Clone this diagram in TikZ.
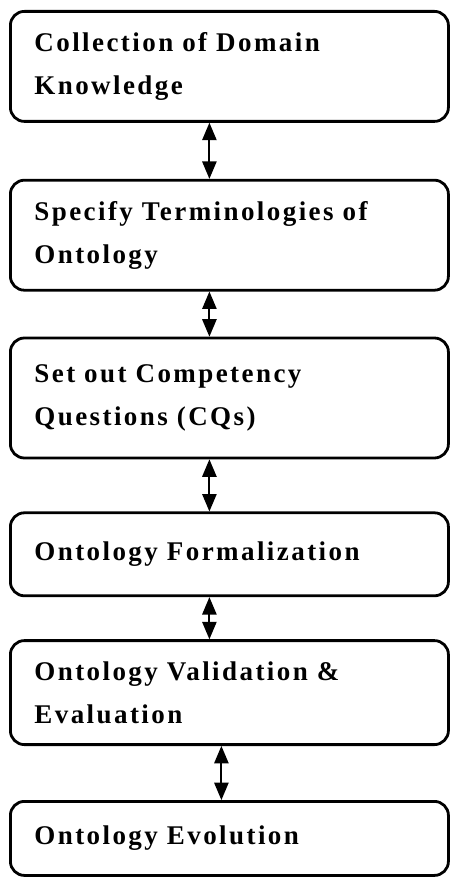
\documentclass[tikz,border=0pt]{standalone}
\usepackage{fontspec}
\setmainfont{Liberation Serif}[LetterSpace=9]
\usetikzlibrary{arrows,positioning}

\begin{document}
\begin{tikzpicture}[<->, >=triangle 45, line width=1pt,
  stage/.style={draw, rounded corners=7pt, line width=1.4pt, align=left,
    text width=195pt, inner xsep=12pt,
    font=\bfseries\fontsize{13.5}{21.5}\selectfont}]
  \path[use as bounding box, fill=white] (0,0) rectangle (227.5pt,-440.5pt);

  \node[stage, minimum height=55pt, anchor=north west] (CD) at (4.5pt,-5pt) {Collection of Domain\\Knowledge};
  \node[stage, minimum height=55pt] (ST) [below=28pt of CD] {Specify Terminologies of\\Ontology};
  \node[stage, minimum height=60pt] (CQ) [below=22.5pt of ST] {Set out Competency\\Questions (CQs)};
  \node[stage, minimum height=41.5pt] (OF) [below=26pt of CQ] {Ontology Formalization};
  \node[stage, minimum height=52pt] (OV) [below=21pt of OF] {Ontology Validation \&\\Evaluation};
  \node[stage, minimum height=37pt] (OE) [below=27pt of OV] {Ontology Evolution};

  \draw ([xshift=-10pt]CD.south) -- ([xshift=-10pt]ST.north);
  \draw ([xshift=-10pt]ST.south) -- ([xshift=-10pt]CQ.north);
  \draw ([xshift=-10pt]CQ.south) -- ([xshift=-10pt]OF.north);
  \draw ([xshift=-10pt]OF.south) -- ([xshift=-10pt]OV.north);
  \draw ([xshift=-4pt]OV.south) -- ([xshift=-4pt]OE.north);
\end{tikzpicture}
\end{document}
